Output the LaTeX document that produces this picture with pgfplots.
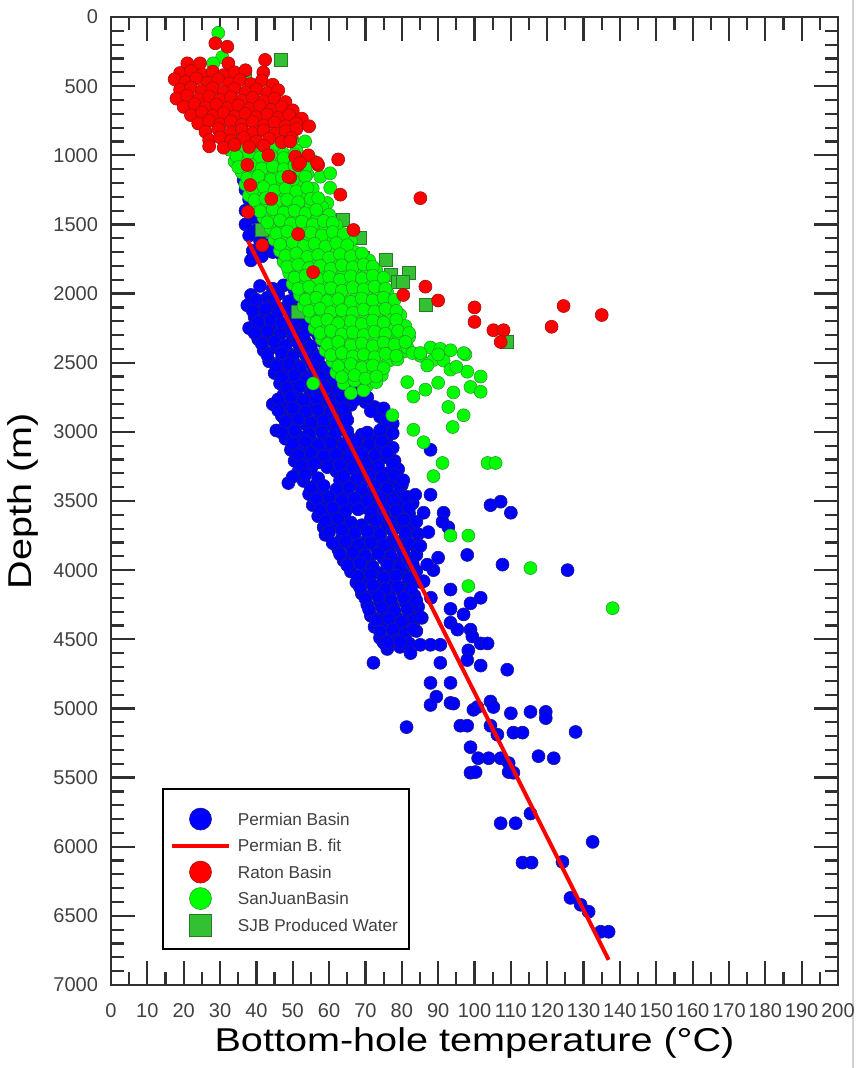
\documentclass[border=0pt]{standalone}
\usepackage{fontspec}
\setmainfont{Liberation Sans}
\usepackage{pgfplots}
\pgfplotsset{compat=1.18}
\definecolor{pbBlue}{HTML}{0000FF}
\definecolor{pbBlueEdge}{HTML}{1A1A8C}
\definecolor{rbRed}{HTML}{FF0000}
\definecolor{rbRedEdge}{HTML}{A01010}
\definecolor{sjGreen}{HTML}{00FF00}
\definecolor{sjGreenEdge}{HTML}{2E9A2E}
\definecolor{pwGreen}{HTML}{33C033}
\definecolor{pwGreenEdge}{HTML}{267A26}
\definecolor{axDark}{HTML}{303030}

\pgfplotsset{
  markleg/.style={legend image code/.code={\draw[##1, overlay, yshift=-1.5pt] plot coordinates {(0.5cm,0cm)};}},
  lineleg/.style={legend image code/.code={\draw[##1, yshift=-1.5pt] (0cm,0cm) -- (1cm,0cm);}},
}

\begin{document}
\begin{tikzpicture}
\useasboundingbox (-55.5pt,-41.5pt) rectangle (372.5pt,492.5pt);
\draw[gray!35, line width=0.8pt] (371pt,-41.5pt) -- (371pt,492.5pt);
\begin{axis}[
    at={(0pt,0pt)}, anchor=south west,
    width=363.5pt, height=484pt, scale only axis,
    xmin=0, xmax=200, ymin=0, ymax=7000,
    y dir=reverse,
    xtick distance=10, ytick distance=500,
    minor x tick num=1, minor y tick num=4,
    tick align=inside,
    major tick length=12pt, minor tick length=6.5pt,
    axis line style={line width=1.4pt, axDark},
    tick style={line width=1.1pt, axDark},
    /pgf/number format/assume math mode=true,
    /pgf/number format/1000 sep={},
    tick label style={font=\fontsize{10}{12}\selectfont, text=black!75},
    yticklabel style={xshift=-3pt},
    xticklabel style={yshift=-5.5pt},
    xlabel={Bottom-hole temperature (°C)},
    ylabel={Depth (m)},
    xlabel style={font=\fontsize{16.5}{20}\selectfont, xscale=1.2, at={(axis description cs:0.5,-0.0692)}, anchor=base},
    ylabel style={font=\fontsize{16.5}{20}\selectfont, xscale=1.2, at={(axis description cs:-0.1087,0.50)}, anchor=base},
    legend cell align=left,
    legend style={at={(0.0702,0.2035)}, anchor=north west, draw=black, line width=1pt,
        inner xsep=3.5pt, inner ysep=6.9pt, column sep=1.5pt,
        font=\fontsize{8.6}{10}\selectfont, text=black!75,
        nodes={inner sep=2pt, text height=9.25pt, text depth=0pt}},
    clip=false,
    clip marker paths=true,
]
% Permian Basin
\addplot[forget plot, only marks, mark=*, mark size=3.25pt,
    mark options={fill=pbBlue, draw=pbBlueEdge, line width=0.3pt}] coordinates {
(36.5,1180) (40,1200) (37,1250) (38,1320) (37,1400) (39.5,1450) (42,1480) (37,1500) (40,1540) (38,1580) (45,1600) (41,1620) (43,1650) (39,1690) (44.5,1700) (47,1720) (41.5,1730) (38.5,1760)
(41,1945) (44.5,1965) (47.5,1940) (50.5,1975)
(38.5,2010) (43,2030) (46,2005) (52,2035) (55,2060)
(37.5,2085) (40,2100) (44.5,2075) (47,2110) (51,2090) (54,2120)
(39.5,2170) (42.5,2150) (45,2185) (49.5,2160) (52,2195) (57,2175)
(38,2250) (41,2230) (44,2265) (48.5,2245) (51.5,2220) (55,2260) (58.5,2240)
(40.5,2330) (43.5,2310) (46,2345) (50,2320) (53.5,2350) (57,2300) (60,2335)
(42,2410) (45.5,2390) (48.5,2425) (52,2400) (55.5,2430) (59,2395) (62,2420)
(43.5,2490) (47,2470) (50.5,2505) (54,2475) (57,2500) (61,2485) (64,2465)
(45,2575) (48.5,2550) (52.5,2580) (56,2555) (59.5,2590) (63,2560) (66,2585)
(46.5,2650) (50,2630) (53,2665) (57,2640) (60.5,2670) (64,2645) (67.5,2620)
(47.5,2730) (51,2710) (54.5,2745) (58,2720) (61.5,2750) (65,2715) (68.5,2740)
(44.5,2800) (48.5,2810) (52,2790) (55.5,2825) (59,2800) (62.5,2830) (66,2805) (70,2785) (72.5,2820)
(47,2885) (50.5,2870) (54,2900) (57.5,2875) (61,2905) (64.5,2880) (74,2890)
(45.5,2990) (50,2960) (53.5,2945) (57,2975) (60.5,2950) (63.5,2980) (75,2965) (77.5,2940)
(48,3050) (51.5,3030) (55,3060) (58.5,3035) (62,3065) (65.5,3040) (69,3020) (72.5,3055) (76,3035)
(49.5,3130) (53,3110) (56.5,3140) (60,3115) (63.5,3145) (67,3120) (70.5,3100) (74,3135) (77.5,3115)
(50.5,3210) (54,3190) (57.5,3220) (61,3200) (64.5,3225) (68,3195) (71.5,3215) (75,3185) (78,3210)
(51.5,3290) (55,3270) (62,3285) (65.5,3265) (69,3295) (72.5,3275) (76,3300) (79,3270)
(48.8,3370) (53,3355) (56.5,3380) (63,3350) (66.5,3375) (70,3345) (73.5,3370) (77,3355) (80,3385)
(54.5,3450) (58,3430) (61.5,3460) (65,3435) (68.5,3465) (72,3440) (75.5,3420) (79,3455)
(55.5,3530) (59,3510) (62.5,3540) (66,3515) (69.5,3545) (73,3520) (76.5,3500) (80,3535) (83,3515)
(57,3610) (60.5,3590) (64,3620) (71.5,3625) (75,3595) (78.5,3615) (82,3590)
(58.5,3690) (62,3670) (65.5,3700) (69,3675) (72.5,3705) (76,3680) (79.5,3660) (83,3695)
(59,3745) (63.5,3770) (67,3750) (70.5,3780) (74,3755) (77.5,3785) (81,3760) (84.5,3740)
(62.5,3850) (66,3830) (69.5,3860) (73,3835) (76.5,3865) (80,3840) (83.5,3820)
(64,3930) (67.5,3910) (71,3940) (75,3915) (78.5,3945) (82,3925)
(66,4010) (70,3990) (73.5,4020) (77,3995) (80.5,4025) (84,4005)
(67.5,4090) (71,4070) (74.5,4100) (78,4075) (81.5,4105) (85,4085)
(69,4170) (72.5,4150) (76.5,4180) (80,4155) (83.5,4185)
(70.5,4250) (74,4230) (77.5,4260) (81,4235) (84.5,4265)
(71.5,4330) (75,4310) (78.5,4340) (82,4315) (85.5,4345)
(72.5,4410) (76,4390) (79.5,4420) (83,4395)
(74,4490) (77.5,4470) (81,4500)
(76,4570) (79.5,4555)
(40,2045) (45,2030) (49,2055) (53.5,2040)
(39,2125) (42.5,2110) (46,2135) (49,2120) (52.5,2140)
(40.5,2205) (44,2190) (47,2215) (50.5,2200) (54,2220) (56,2195)
(39.5,2285) (43,2270) (46.5,2295) (50,2280) (53,2300) (56.5,2275)
(41.5,2365) (45,2350) (48,2375) (51.5,2360) (55,2380) (58.5,2355) (61.5,2370)
(43,2445) (47,2430) (50,2455) (53.5,2440) (57,2460) (60.5,2435) (63,2450)
(45.5,2525) (49,2510) (52,2535) (55.5,2520) (59,2540) (62.5,2515)
(47,2605) (50.5,2590) (54,2615) (58,2600) (61.5,2620) (64.5,2595)
(48.5,2685) (52,2670) (55.5,2695) (59,2680) (62.5,2700) (66,2675)
(46,2765) (49.5,2750) (53,2775) (56.5,2760) (60,2780) (63.5,2755) (67,2770) (70.5,2750)
(46,2845) (50,2830) (53.5,2855) (57,2840) (60.5,2860) (64,2835) (71.5,2850) (75,2830)
(48,2925) (51.5,2910) (55,2935) (58.5,2920) (62,2940) (65,2915) (76,2920)
(47,3005) (50.5,2990) (54.5,3015) (58,3000) (61.5,3020) (65,2995) (70.5,3005) (74,2990) (77.5,3010)
(50,3085) (53.5,3070) (57,3095) (60.5,3080) (64,3100) (67.5,3075) (71,3090) (74.5,3070)
(51.5,3165) (55,3150) (58.5,3175) (62,3160) (65.5,3180) (69,3155) (72.5,3170) (76,3150)
(52.5,3245) (56,3230) (59.5,3255) (63,3240) (66.5,3260) (70,3235) (73.5,3250) (77.5,3230)
(50,3325) (53.5,3310) (57,3335) (64,3320) (67.5,3340) (71,3315) (74.5,3330) (78,3310)
(55,3405) (58.5,3390) (62,3415) (65.5,3400) (69,3420) (72.5,3395) (76,3410) (79.5,3390)
(56.5,3485) (60,3470) (63.5,3495) (67,3480) (70.5,3500) (74,3475) (77.5,3490) (81.5,3470)
(57.5,3565) (61,3550) (64.5,3575) (68,3560) (71.5,3580) (75,3555) (78.5,3570) (82,3550)
(59,3645) (62.5,3630) (66,3655) (73,3640) (77,3660) (80.5,3635) (84,3650)
(60,3725) (63.5,3710) (67,3735) (70.5,3720) (74,3740) (77.5,3715) (81,3730)
(61,3805) (64.5,3790) (68,3815) (71.5,3800) (75,3820) (78.5,3795) (82,3810)
(63,3885) (66.5,3870) (70,3895) (73.5,3880) (77,3900) (80.5,3875) (84,3890)
(65,3965) (68.5,3950) (72,3975) (76,3960) (79.5,3980) (83,3955)
(68,4045) (71.5,4030) (75,4055) (78.5,4040) (82,4060)
(68.5,4125) (72,4110) (75.5,4135) (79,4120) (82.5,4140)
(70,4205) (73.5,4190) (77,4215) (80.5,4200) (84,4220)
(71,4285) (74.5,4270) (78,4295) (81.5,4280)
(73,4365) (76.5,4350) (80,4375) (83.5,4360)
(74,4445) (77.5,4430) (81,4455) (84,4440)
(75,4525) (78.5,4510) (82,4530)
(87.9,3130) (80.4,3350) (83.7,3455) (87.9,3455) (104.4,3530) (107.2,3505) (110,3585) (86,3585) (91.5,3585)
(91.2,3650) (92.8,3690) (87.3,3725) (85.1,3825) (98,3890) (90,3910) (107.7,3960) (125.6,4000) (88.7,4000)
(87,3960) (86,4080) (88,4200) (93.4,4140) (101.7,4200) (98.9,4240) (93.4,4280) (97,4320) (93.4,4380)
(98.9,4430) (95.3,4430) (99.4,4480) (101.7,4530) (103.6,4530) (98.3,4580) (90.6,4540) (87.9,4540)
(85.1,4540) (82.4,4600) (83.2,4430) (85.1,4340)
(72.2,4670) (76,4520) (79.6,4520) (90.6,4670) (98,4650) (101.7,4690) (109,4720) (87.9,4815) (93.4,4815)
(89.5,4915) (87.9,4975) (93.4,4960) (94.2,4965) (99.7,5010) (100.8,4990) (104.4,4950) (105.2,4990)
(110,5035) (115.4,5025) (119.6,5025) (119.6,5070) (81.3,5135) (96.1,5125) (98,5125) (104.4,5125)
(106.3,5190) (110.7,5175) (113.2,5175) (127.8,5170) (98.9,5280) (101,5360) (103.9,5360) (107.2,5360)
(109.4,5395) (117.6,5345) (121.8,5360) (98.9,5465) (100.3,5460) (109.4,5460) (110.7,5465)
(115.4,5760) (107.2,5830) (111.3,5830) (132.5,5965) (113.2,6115) (115.7,6115) (124.2,6110)
(126.4,6370) (129.2,6420) (131.4,6470) (134.7,6615) (136.9,6615)
};
% Permian B. fit
\addplot[forget plot, rbRed, line width=2pt] coordinates {(37.7,1620) (136.9,6818)};
% SJB produced water
\addplot[forget plot, only marks, mark=square*, mark size=3.25pt,
    mark options={fill=pwGreen, draw=pwGreenEdge, line width=0.3pt}] coordinates {
(46.6,310) (36.9,420) (33.6,950) (41.9,1345) (43,1490) (44.4,1555) (41.6,1540) (63.9,1470) (68.5,1600)
(69.4,1740) (75.5,1755) (76.9,1865) (78.8,1915) (81.8,1850) (80.4,1915) (86.5,2080) (51.5,2130) (109,2350)
};
% San Juan Basin
\addplot[forget plot, only marks, mark=*, mark size=3.25pt,
    mark options={fill=sjGreen, draw=sjGreenEdge, line width=0.3pt}] coordinates {
(29.5,115) (30.6,290) (28.1,335)
(33,905) (36,890) (49.9,885) (53.4,900)
(32.8,960) (35.5,975) (38.5,950) (41.5,985) (44.5,960) (47.5,990) (51,965)
(34,1045) (37,1025) (40,1060) (43,1035) (46,1065) (49,1040) (52,1075) (55.5,1040)
(36,1125) (39,1105) (42,1140) (45,1115) (48.5,1145) (51,1110) (54,1135) (57.6,1155) (60.3,1130)
(37,1210) (40,1190) (43,1225) (46,1195) (49,1230) (52,1205) (55.5,1240) (60.3,1235)
(38,1290) (41,1270) (44,1305) (47.5,1275) (50,1310) (53.4,1280) (59.5,1345)
(40,1370) (43,1350) (46,1385) (49,1355) (52.5,1390) (55,1360) (58.1,1375)
(42,1450) (45,1430) (48,1465) (51.5,1440) (54,1470) (57,1445) (60,1430)
(44,1530) (47,1510) (50,1545) (53,1515) (56.5,1550) (59,1525) (62,1505)
(45,1610) (48,1590) (51.5,1625) (54,1595) (57,1630) (60.5,1605) (63,1640) (66,1615)
(46.5,1690) (49.5,1670) (52,1705) (55.5,1680) (58,1710) (61,1685) (64.5,1665) (67,1700)
(47.5,1770) (50.5,1750) (53,1785) (56.5,1760) (59,1790) (62,1765) (65.5,1745) (68,1780) (71,1760)
(49,1850) (52.5,1830) (55,1865) (58,1840) (61.5,1870) (64,1845) (67,1825) (70.5,1855) (73,1835)
(50,1930) (53.5,1910) (56,1945) (59,1915) (62.5,1950) (65,1925) (68.5,1905) (71,1940) (74,1915)
(52,2010) (55,1990) (58,2025) (61.5,2000) (64,2030) (67.5,2005) (70,1985) (73.5,2020) (76,1995)
(53,2090) (56.5,2070) (59,2105) (62,2080) (65.5,2110) (68,2085) (71.5,2065) (74,2100) (77,2075)
(55,2170) (58,2150) (61.5,2185) (64,2160) (67,2190) (70.5,2165) (73,2145) (76.5,2180) (79.6,2155)
(56,2250) (59.5,2230) (62,2265) (65,2240) (68.5,2270) (71,2245) (74.5,2225) (77.7,2260) (81,2235)
(58,2330) (61,2310) (64.5,2345) (67,2320) (70,2350) (73.5,2325) (76,2305) (79,2340) (82,2315)
(59,2410) (62.5,2390) (65,2425) (68,2400) (71.5,2430) (74,2405) (77,2385) (80.5,2420) (81.5,2390) (87.9,2390) (90.6,2400) (93.4,2410)
(61,2490) (64,2470) (67.5,2505) (70,2480) (73,2510) (76.5,2485) (78.8,2475) (85.1,2450) (88.7,2480) (91.5,2485) (97.5,2440)
(62,2570) (65.5,2550) (68,2585) (71,2560) (74.5,2590) (93.4,2550) (98,2565)
(64,2650) (67,2630) (70.5,2665) (73,2640) (81.5,2640) (90,2645) (101.7,2600)
(66,2720) (69.5,2700) (86.5,2695) (94.2,2715) (98.9,2675) (101.7,2710)
(34.5,1005) (38,990) (41,1015) (44,1000) (47.5,1020) (50.5,995)
(35,1085) (38.5,1070) (41.5,1095) (44.5,1080) (47.5,1100) (50.5,1075) (53.5,1090)
(37.5,1165) (40.5,1150) (44,1175) (47,1160) (50,1180) (53.5,1155)
(39,1245) (42,1230) (45,1255) (48,1240) (51,1260) (54,1235)
(39.5,1325) (42.5,1310) (45.5,1335) (48.5,1320) (51.5,1340) (55,1315) (57,1310)
(41,1405) (44.5,1390) (47.5,1415) (50.5,1400) (53.5,1420) (56.5,1395)
(43,1485) (46.5,1470) (49.5,1495) (52.5,1480) (55.5,1500) (58.5,1475) (61,1490)
(45.5,1565) (48.5,1550) (51.5,1575) (55,1560) (58,1580) (61,1555) (64,1570)
(46.5,1645) (50,1630) (53,1655) (56,1640) (59,1660) (62,1635) (65,1650)
(48,1725) (51,1710) (54,1735) (57,1720) (60,1740) (63,1715) (66,1730) (69,1710)
(48.5,1805) (51.5,1790) (54.5,1815) (57.5,1800) (60.5,1820) (63.5,1795) (66.5,1810) (69.5,1790) (72,1805)
(50.5,1885) (53.5,1870) (57,1895) (60,1880) (63,1900) (66,1875) (69,1890) (72,1870) (75,1885)
(51.5,1965) (54.5,1950) (57.5,1975) (60.5,1960) (63.5,1980) (66.5,1955) (69.5,1970) (72.5,1950) (75.5,1965)
(53.5,2045) (56.5,2030) (59.5,2055) (62.5,2040) (66,2060) (69,2035) (72,2050) (75,2030) (78,2045)
(54.5,2125) (57.5,2110) (60.5,2135) (63.5,2120) (66.5,2140) (69.5,2115) (72.5,2130) (75.5,2110) (78.5,2125)
(56.5,2205) (59.5,2190) (62.5,2215) (66,2200) (69,2220) (72,2195) (75,2210) (78.5,2190)
(57.5,2285) (60.5,2270) (63.5,2295) (66.5,2280) (69.5,2300) (72.5,2275) (75.5,2290) (79,2270) (82,2285)
(59.5,2365) (62.5,2350) (66,2375) (69,2360) (72,2380) (75,2355) (78,2370) (81,2350)
(60.5,2445) (63.5,2430) (66.5,2455) (69.5,2440) (72.5,2460) (75.5,2435) (78.5,2450) (83,2430) (90,2440)
(62.5,2525) (66,2510) (69,2535) (72,2520) (75,2540) (87,2520) (95,2530)
(63.5,2605) (67,2590) (70,2615) (73,2600)
(83.2,2745) (55.6,2650) (92.8,2820) (97,2880) (94,2965) (83.2,2985) (86,3075) (91.2,3225) (88.7,3320)
(103.6,3225) (105.8,3225) (93.4,3750) (98.3,3750) (115.4,3985) (98.3,4115) (138,4275) (77.4,2880)
(85.1,2430) (97,2430)
};
% Raton Basin
\addplot[forget plot, only marks, mark=*, mark size=3.25pt,
    mark options={fill=rbRed, draw=rbRedEdge, line width=0.3pt}] coordinates {
(28.7,190) (32,215) (21,335) (24.5,335) (32.3,335) (42.4,310)
(19,405) (22,390) (25,415) (28,395) (31,420) (34,400) (37,385) (41.9,400)
(17.5,450) (20.5,470) (23.5,445) (26.5,475) (29.5,450) (32.5,480) (35.5,455) (38.5,485) (41.5,460) (44.5,490)
(19,525) (22,510) (25,535) (28,515) (31,540) (34,520) (37,545) (40,525) (43,550) (46,530)
(18,590) (21,570) (24,595) (27,575) (30,600) (33,580) (36,605) (39,585) (42,610) (45,590) (48,615)
(20,650) (23,630) (26,655) (29,635) (32,660) (35,640) (38,665) (41,645) (44,670) (47,650) (50,675)
(22,710) (25,690) (28,715) (31,695) (34,720) (37,700) (40,725) (43,705) (46,730) (49,710) (52.5,735)
(24,770) (27,750) (30,775) (33,755) (36,780) (39,760) (42,785) (45,765) (48,790) (51,770) (54.5,790)
(26,830) (29.5,810) (33,835) (36,815) (39,840) (42,820) (45,845) (48,825) (51,810)
(27,890) (30,870) (33,895) (36.5,875) (40,900) (43.5,880) (47,905) (49.5,875)
(27,935) (31,945) (34,925) (38,940) (42,930)
(37.5,1070) (43.3,1000) (49.3,1160) (57,1070) (51.5,1070) (62.5,1030) (63.1,1285) (38.3,1215) (44.1,1315)
(37.7,1410) (51.5,1570) (66.7,1540) (41.6,1650) (55.6,1845) (85.1,1310) (86.5,1950) (80.4,2010) (90,2050)
(100,2100) (100,2205) (105.2,2265) (108,2265) (107.2,2350) (124.5,2090) (121.2,2240) (135,2155)
(49.3,900) (50.7,1010) (54.3,1000) (56.7,1055) (52,1055) (48.8,1155)
};
% legend in the original order
\addlegendimage{only marks, mark=*, mark size=5.5pt, mark options={fill=pbBlue, draw=pbBlueEdge, line width=0.3pt}, markleg}
\addlegendentry{Permian Basin}
\addlegendimage{rbRed, line width=2pt, lineleg}
\addlegendentry{Permian B. fit}
\addlegendimage{only marks, mark=*, mark size=5.5pt, mark options={fill=rbRed, draw=rbRedEdge, line width=0.3pt}, markleg}
\addlegendentry{Raton Basin}
\addlegendimage{only marks, mark=*, mark size=5.5pt, mark options={fill=sjGreen, draw=sjGreenEdge, line width=0.3pt}, markleg}
\addlegendentry{SanJuanBasin}
\addlegendimage{only marks, mark=square*, mark size=5.5pt, mark options={fill=pwGreen, draw=pwGreenEdge, line width=0.3pt}, markleg}
\addlegendentry{SJB Produced Water}
\end{axis}
\end{tikzpicture}
\end{document}
